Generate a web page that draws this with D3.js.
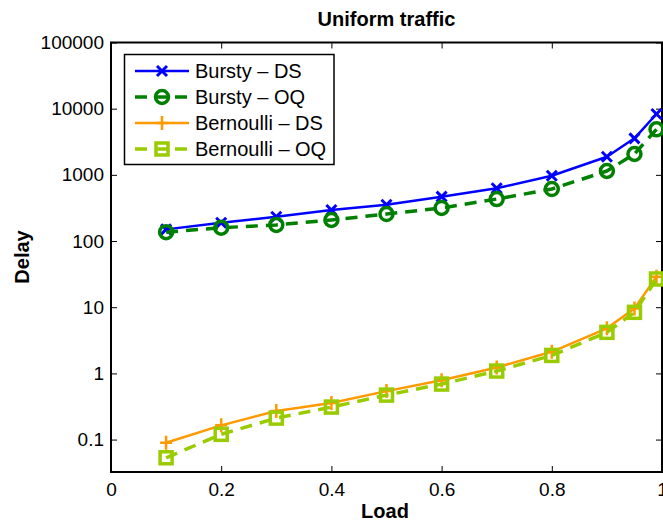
<!DOCTYPE html>
<html>
<head>
<meta charset="utf-8">
<script src="https://cdn.jsdelivr.net/npm/d3@7"></script>
<style>
  body { margin: 0; background: #fff; overflow: hidden; }
  text { font-family: 'Liberation Sans', Arial, Helvetica, sans-serif; }
</style>
</head>
<body>
<div id="chart"></div>
<script>
const loads = [0.1, 0.2, 0.3, 0.4, 0.5, 0.6, 0.7, 0.8, 0.9, 0.95, 0.99]
const burstyDS = [150, 189, 233, 294, 354, 468, 627, 970, 1880, 3565, 8300]
const burstyOQ = [136, 159, 175, 208, 256, 316, 431, 611, 1143, 2066, 4880]
const bernoulliDS = [0.0895, 0.164, 0.27, 0.356, 0.54, 0.79, 1.23, 2.12, 4.8, 9.6, 28.8]
const bernoulliOQ = [0.0531, 0.120, 0.211, 0.31, 0.47, 0.69, 1.085, 1.87, 4.17, 8.37, 26.7]

const xTicks = [0, 0.2, 0.4, 0.6, 0.8, 1]
const xTickLabels = ['0', '0.2', '0.4', '0.6', '0.8', '1']
const yTicks = [0.1, 1, 10, 100, 1000, 10000, 100000]
const yTickLabels = ['0.1', '1', '10', '100', '1000', '10000', '100000']

const seriesNames = ['Bursty – DS', 'Bursty – OQ', 'Bernoulli – DS', 'Bernoulli – OQ']
const seriesValues = [burstyDS, burstyOQ, bernoulliDS, bernoulliOQ]

const styles = [
  { color: '#0000ff', width: 2.5, dash: null, marker: 'x' },
  { color: '#008000', width: 3.5, dash: '12,8', marker: 'o' },
  { color: '#ff9900', width: 2.5, dash: null, marker: '+' },
  { color: '#99cc00', width: 3.5, dash: '12,8', marker: 's' }
]

const W = 663
const H = 523
const plot = { left: 111, right: 662, top: 42.5, bottom: 472 }

const svg = d3.select('#chart').append('svg')
  .attr('width', W)
  .attr('height', H)

const x = d3.scaleLinear()
  .domain([0, 1])
  .range([plot.left, plot.right])

const y = d3.scaleLog()
  .domain([Math.pow(10, -1.49), 100000])
  .range([plot.bottom, plot.top])

const fontSize = 19

// axes (box with inward ticks)
svg.append('g')
  .attr('transform', `translate(0,${plot.bottom})`)
  .call(d3.axisBottom(x).tickValues(xTicks).tickFormat((d, i) => xTickLabels[i])
    .tickSizeInner(-6).tickSizeOuter(0).tickPadding(11))
svg.append('g')
  .attr('transform', `translate(0,${plot.top})`)
  .call(d3.axisTop(x).tickValues(xTicks).tickFormat('')
    .tickSizeInner(-6).tickSizeOuter(0))
svg.append('g')
  .attr('transform', `translate(${plot.left},0)`)
  .call(d3.axisLeft(y).tickValues(yTicks).tickFormat((d, i) => yTickLabels[i])
    .tickSizeInner(-6).tickSizeOuter(0).tickPadding(7))
svg.append('g')
  .attr('transform', `translate(${plot.right},0)`)
  .call(d3.axisRight(y).tickValues(yTicks).tickFormat('')
    .tickSizeInner(-6).tickSizeOuter(0))

svg.selectAll('.domain').remove()
svg.selectAll('.tick line').attr('stroke', '#000').attr('stroke-width', 1)
svg.selectAll('.tick text')
  .attr('fill', '#000')
  .style('font-size', fontSize + 'px')

svg.append('rect')
  .attr('x', plot.left)
  .attr('y', plot.top)
  .attr('width', plot.right - plot.left)
  .attr('height', plot.bottom - plot.top)
  .attr('fill', 'none')
  .attr('stroke', '#000')
  .attr('stroke-width', 2)

function drawMarker (g, type, cx, cy, color) {
  if (type === 'x') {
    g.append('path')
      .attr('d', `M${cx - 5},${cy - 5}L${cx + 5},${cy + 5}M${cx - 5},${cy + 5}L${cx + 5},${cy - 5}`)
      .attr('stroke', color).attr('stroke-width', 3).attr('fill', 'none')
  } else if (type === '+') {
    g.append('path')
      .attr('d', `M${cx - 6},${cy}L${cx + 6},${cy}M${cx},${cy - 7}L${cx},${cy + 7}`)
      .attr('stroke', color).attr('stroke-width', 2.5).attr('fill', 'none')
  } else if (type === 'o') {
    g.append('circle')
      .attr('cx', cx).attr('cy', cy).attr('r', 6.5)
      .attr('stroke', color).attr('stroke-width', 3.5).attr('fill', 'none')
  } else if (type === 's') {
    g.append('rect')
      .attr('x', cx - 6).attr('y', cy - 6).attr('width', 12).attr('height', 12)
      .attr('stroke', color).attr('stroke-width', 3.5).attr('fill', 'none')
  }
}

const line = d3.line()
  .x(d => x(d[0]))
  .y(d => y(d[1]))

seriesValues.forEach((vals, i) => {
  const st = styles[i]
  const pts = loads.map((l, j) => [l, vals[j]])
  const g = svg.append('g')
  g.append('path')
    .datum(pts)
    .attr('fill', 'none')
    .attr('stroke', st.color)
    .attr('stroke-width', st.width)
    .attr('stroke-dasharray', st.dash)
    .attr('stroke-linejoin', 'round')
    .attr('d', line)
  pts.forEach(p => drawMarker(g, st.marker, x(p[0]), y(p[1]), st.color))
})

// legend
const legend = svg.append('g')
legend.append('rect')
  .attr('x', 124.5).attr('y', 54.5)
  .attr('width', 209.5).attr('height', 110)
  .attr('fill', '#fff')
  .attr('stroke', '#000')
  .attr('stroke-width', 1.5)

seriesNames.forEach((name, i) => {
  const st = styles[i]
  const ry = 71 + i * 26
  legend.append('line')
    .attr('x1', 135).attr('x2', 189)
    .attr('y1', ry).attr('y2', ry)
    .attr('stroke', st.color)
    .attr('stroke-width', st.width)
    .attr('stroke-dasharray', st.dash)
  drawMarker(legend, st.marker, 162, ry, st.color)
  legend.append('text')
    .attr('x', 195)
    .attr('y', ry + 7)
    .style('font-size', '20px')
    .text(name)
})

// titles
svg.append('text')
  .attr('x', (plot.left + plot.right) / 2)
  .attr('y', 26)
  .attr('text-anchor', 'middle')
  .style('font-size', '20px')
  .style('font-weight', 'bold')
  .text('Uniform traffic')

svg.append('text')
  .attr('x', 385)
  .attr('y', 518)
  .attr('text-anchor', 'middle')
  .style('font-size', '20px')
  .style('font-weight', 'bold')
  .text('Load')

svg.append('text')
  .attr('transform', 'translate(29,257) rotate(-90)')
  .attr('text-anchor', 'middle')
  .style('font-size', '20px')
  .style('font-weight', 'bold')
  .text('Delay')
</script>
</body>
</html>
